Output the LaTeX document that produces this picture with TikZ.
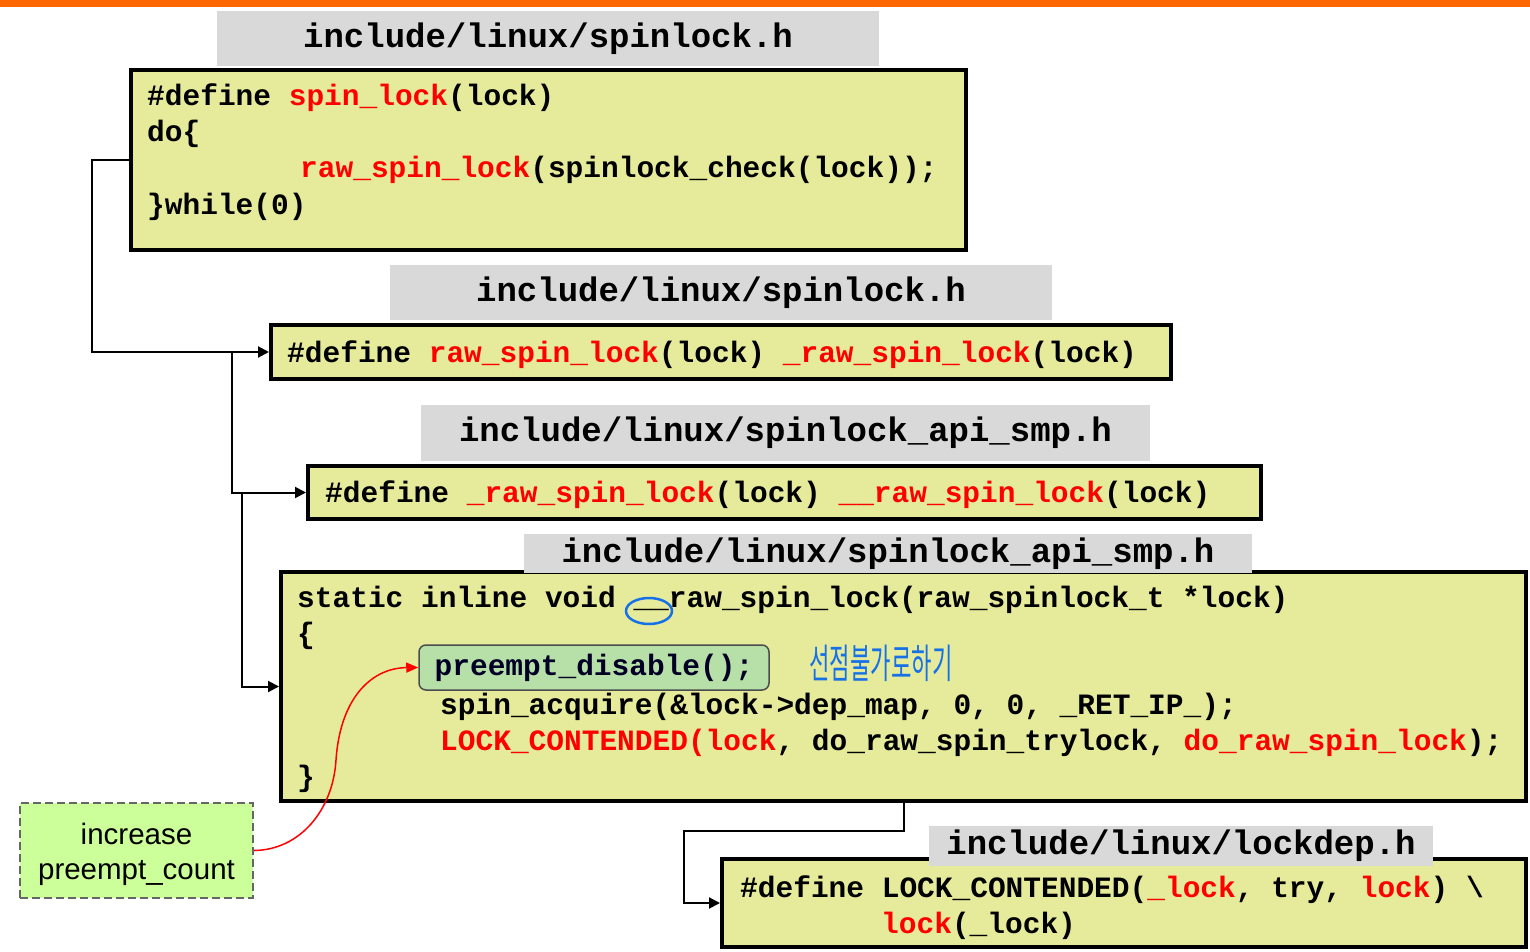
\documentclass[tikz,border=0pt]{standalone}
\usepackage{fontspec}
\setmainfont{Liberation Sans}
\newfontfamily\codefont{Liberation Mono}
\newfontfamily\krfont{Noto Sans CJK KR}
\usetikzlibrary{arrows.meta}
\definecolor{boxfill}{HTML}{E6EB9B}
\definecolor{hdrgray}{HTML}{D9D9D9}
\definecolor{pdgreen}{HTML}{B6E0A8}
\definecolor{incgreen}{HTML}{CCFF99}
\definecolor{codered}{HTML}{FF0000}
\definecolor{penblue}{HTML}{1670E8}
\definecolor{topbar}{HTML}{FF6600}
\newcommand{\R}[1]{\textcolor{codered}{#1}}
\tikzset{
  codebox/.style={draw=black, line width=4pt, fill=boxfill, inner sep=0pt},
  hdr/.style={fill=hdrgray, inner sep=0pt, font=\codefont\bfseries\fontsize{34}{40}\selectfont},
  code/.style={anchor=base west, inner sep=0pt, font=\codefont\bfseries\fontsize{29.5}{36}\selectfont},
  conn/.style={line width=2pt, draw=black, -{Triangle[length=11pt,width=11pt]}},
}
\begin{document}
\begin{tikzpicture}[x=1pt,y=-1pt]
\useasboundingbox (0,0) rectangle (1530,952);
\fill[topbar] (0,0) rectangle (1530,7);

% boxes
\node[codebox, minimum width=835pt, minimum height=180pt] (b1) at (548.5,160) {};
\node[codebox, minimum width=900pt, minimum height=54pt] (b2) at (721,352) {};
\node[codebox, minimum width=953pt, minimum height=53pt] (b3) at (784.5,492.5) {};
\node[codebox, minimum width=1245pt, minimum height=229pt] (b4) at (903.5,686.5) {};
\node[codebox, minimum width=804pt, minimum height=88pt] (b5) at (1124,903) {};

% headers
\node[hdr, minimum width=662pt, minimum height=55pt] (h1) at (548,38.5) {include/linux/spinlock.h};
\node[hdr, minimum width=662pt, minimum height=55pt] (h2) at (721,292.5) {include/linux/spinlock.h};
\node[hdr, minimum width=729pt, minimum height=56pt] (h3) at (785.5,433) {include/linux/spinlock\_api\_smp.h};
\node[hdr, minimum width=728pt, minimum height=39pt] (h4) at (888,553.5) {include/linux/spinlock\_api\_smp.h};
\node[hdr, minimum width=504pt, minimum height=40pt] (h5) at (1181,846) {include/linux/lockdep.h};

% box 1 text
\node[code] (t1a) at (147,106) {\#define \R{spin\_lock}(lock)};
\node[code] (t1b) at (147,142) {do\{};
\node[code] (t1c) at (300,178) {\R{raw\_spin\_lock}(spinlock\_check(lock));};
\node[code] (t1d) at (147,214) {\}while(0)};

% box 2 text
\node[code] (t2a) at (287,362) {\#define \R{raw\_spin\_lock}(lock) \R{\_raw\_spin\_lock}(lock)};

% box 3 text
\node[code] (t3a) at (325,502) {\#define \R{\_raw\_spin\_lock}(lock) \R{\_\_raw\_spin\_lock}(lock)};

% box 4 text
\node[code] (t4a) at (297,607) {static inline void \_\_raw\_spin\_lock(raw\_spinlock\_t *lock)};
\node[code] (t4b) at (297,643) {\{};
\node[draw=black!70, line width=1.5pt, fill=pdgreen, rounded corners=7pt,
      minimum width=350pt, minimum height=45pt, inner sep=0pt,
      font=\codefont\bfseries\fontsize{29.5}{36}\selectfont, text=black!85!blue] (pd) at (594,667.5) {preempt\_disable();};
\node[code] (t4d) at (440,714) {spin\_acquire(\&lock->dep\_map, 0, 0, \_RET\_IP\_);};
\node[code] (t4e) at (440,750) {\R{LOCK\_CONTENDED(lock}, do\_raw\_spin\_trylock, \R{do\_raw\_spin\_lock});};
\node[code] (t4f) at (297,786) {\}};

% annotations
\draw[penblue, line width=2.5pt] (649,611) ellipse [x radius=23, y radius=13];
\node[inner sep=0pt, text=penblue, font=\krfont\fontsize{30}{30}\selectfont] (kr) at (881,663) {\scalebox{0.74}[1.35]{선점불가로하기}};

% box 5 text
\node[code] (t5a) at (740,897) {\#define LOCK\_CONTENDED(\R{\_lock}, try, \R{lock}) \textbackslash};
\node[code] (t5b) at (881,933) {\R{lock}(\_lock)};

% note box
\node[draw=black!60, dash pattern=on 8pt off 4pt, line width=2pt, fill=incgreen,
      minimum width=233pt, minimum height=95pt, inner sep=0pt] (inc) at (136.5,850.5) {};
\node[align=center, inner sep=0pt, font=\fontsize{29.5}{35}\selectfont] (inctext)
      at ([yshift=-4pt]inc.center) {increase\\preempt\_count};

% connectors
\coordinate (j1) at (232,352);
\coordinate (j2) at (242,492.5);
\coordinate (c1) at (92,160);
\coordinate (c4) at (684,831);
\draw[conn] (b1.west) -- (c1) |- (b2.west);
\draw[conn] (j1) |- (b3.west);
\draw[conn] (j2) |- (b4.west);
\draw[conn] (b4.south) |- (c4) |- (b5.west);
\draw[codered, line width=1.5pt, -{Triangle[length=12pt,width=10pt]}]
  (inc.east) .. controls (300,850) and (333,810) .. (336,760)
  .. controls (340,700) and (370,668) .. (pd.west);
\end{tikzpicture}
\end{document}
